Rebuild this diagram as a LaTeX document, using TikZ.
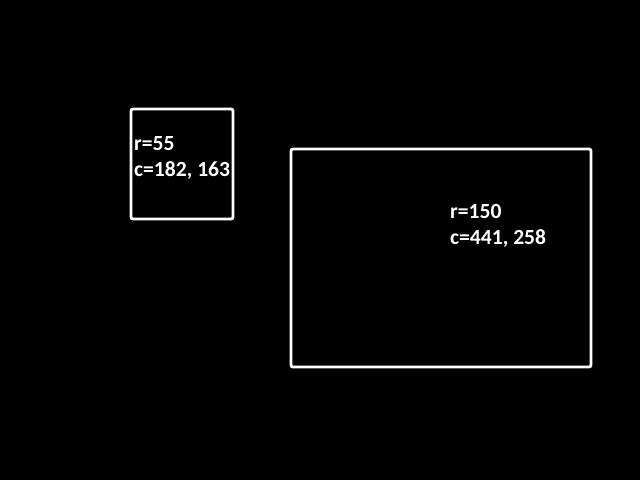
\documentclass[tikz,border=0pt]{standalone}
\usepackage{fontspec}
\setmainfont{Carlito}
\usetikzlibrary{positioning}

\begin{document}
\begin{tikzpicture}[x=1pt, y=-1pt,
    frame/.style={draw=white, line width=2.8pt, rounded corners=2pt, inner sep=0pt},
    tag/.style={text=white, font=\bfseries\fontsize{21.6}{26}\selectfont, inner sep=0pt, anchor=base west}]

% background
\fill[black] (0,0) rectangle (640,480);
\useasboundingbox (0,0) rectangle (640,480);

% small box
\node[frame, minimum width=102pt, minimum height=110pt] (box1) at (182,164) {};
\node[tag] (r1) at (134,150) {r=55};
\node[tag] (c1) at (134,176) {c=182, 163};

% large box
\node[frame, minimum width=300pt, minimum height=218pt] (box2) at (441,258) {};
\node[tag] (r2) at (450,218) {r=150};
\node[tag] (c2) at (450,244) {c=441, 258};
\end{tikzpicture}
\end{document}
